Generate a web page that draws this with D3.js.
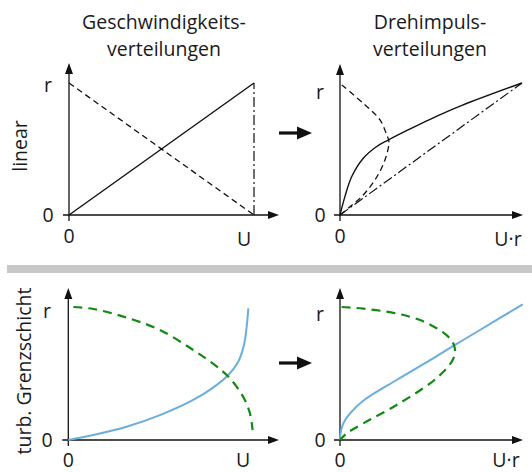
<!DOCTYPE html>
<html>
<head>
<meta charset="utf-8">
<script src="https://cdn.jsdelivr.net/npm/d3@7/dist/d3.min.js"></script>
<style>
  html, body { margin: 0; padding: 0; background: #fff; }
  svg { display: block; }
  text { font-family: "Open Sans", "Noto Sans", sans-serif; fill: #1a1a1a; }
</style>
</head>
<body>
<svg id="chart" width="532" height="472"></svg>
<script>
// ---- Werte (normiert: Geschwindigkeit u/U bzw. u·r/(U·R), Radius r/R) ----
// Zeile 1: lineares Profil
const linVelSolid   = [[0, 0], [1, 1]];
const linVelDashed  = [[0, 1], [1, 0]];
const linVelDashDot = [[1, 0], [1, 1]];

const linMomSolid = [[0, 0], [0.027, 0.139], [0.064, 0.29], [0.128, 0.43], [0.2, 0.517],
  [0.265, 0.568], [0.385, 0.652], [0.495, 0.725], [0.67, 0.83], [1, 1]];
const linMomDashed = [[0.01, 0.985], [0.126, 0.848], [0.22, 0.72], [0.257, 0.606], [0.269, 0.555],
  [0.247, 0.417], [0.192, 0.265], [0.119, 0.139], [0.055, 0.063], [0, 0]];
const linMomDashDot = [[0, 0], [1, 1]];

// Zeile 2: turbulente Grenzschicht
const turbVelBlue = [[0, 0], [0.139, 0.038], [0.324, 0.1], [0.509, 0.187], [0.694, 0.301],
  [0.806, 0.396], [0.889, 0.489], [0.944, 0.589], [0.976, 0.714], [0.991, 0.852], [1, 0.99]];
const turbVelGreen = [[0.028, 1.0], [0.139, 0.985], [0.324, 0.92], [0.509, 0.827], [0.694, 0.677],
  [0.824, 0.553], [0.88, 0.489], [0.935, 0.401], [0.981, 0.301], [1.009, 0.201], [1.024, 0.075]];

const turbMomBlue = [[0, 0], [0.005, 0.065], [0.018, 0.125], [0.055, 0.2], [0.128, 0.295],
  [0.311, 0.451], [0.495, 0.6], [0.632, 0.715], [0.769, 0.827], [1.004, 1.02]];
const turbMomGreen = [[0.009, 1.0], [0.128, 0.988], [0.311, 0.951], [0.44, 0.902], [0.531, 0.84],
  [0.595, 0.777], [0.626, 0.714], [0.632, 0.652], [0.614, 0.589], [0.568, 0.513], [0.495, 0.426],
  [0.311, 0.263], [0.128, 0.125], [0.037, 0.05], [0, 0]];

// Beschriftungen
const colTitles = [["Geschwindigkeits-", "verteilungen"], ["Drehimpuls-", "verteilungen"]];
const rowLabels = ["linear", "turb. Grenzschicht"];
const yTickLabels = ["0", "r"];
const xTickLabelsVel = ["0", "U"];
const xTickLabelsMom = ["0", "U·r"];

// ---- Layout ----
const svg = d3.select("#chart");
const black = "#111";
const blue = "#6aaedb";
const green = "#128a12";
const fs = 19.5;
const smooth = d3.curveCatmullRom.alpha(0.5);

const panels = [
  { x: [69, 254],   y: [215, 83],  xTip: 279, yTip: 63,  xLabelX: 244, rLabelX: 48,  rLabelY: 92,
    xLabelDy: 31, zeroDy: 28,
    xLabels: xTickLabelsVel, series: [
      { data: linVelSolid, style: "solid" },
      { data: linVelDashed, style: "dashed" },
      { data: linVelDashDot, style: "dashdot" }] },
  { x: [340, 522],  y: [215, 83],  xTip: 523, yTip: 64,  xLabelX: 508, rLabelX: 320, rLabelY: 99,
    xLabelDy: 31, zeroDy: 28,
    xLabels: xTickLabelsMom, series: [
      { data: linMomSolid, style: "solid", curve: smooth },
      { data: linMomDashed, style: "dashed", curve: smooth },
      { data: linMomDashDot, style: "dashdot" }] },
  { x: [68.3, 248.3], y: [440, 307], xTip: 279, yTip: 288, xLabelX: 243, rLabelX: 47, rLabelY: 318,
    xLabelDy: 26.5, zeroDy: 26.5,
    xLabels: xTickLabelsVel, series: [
      { data: turbVelBlue, style: "blue", curve: smooth },
      { data: turbVelGreen, style: "green", curve: smooth }] },
  { x: [340, 522],  y: [440, 307], xTip: 523, yTip: 288, xLabelX: 506, rLabelX: 320, rLabelY: 321,
    xLabelDy: 26.5, zeroDy: 26.5,
    xLabels: xTickLabelsMom, series: [
      { data: turbMomBlue, style: "blue", curve: smooth },
      { data: turbMomGreen, style: "green", curve: smooth }] }
];

const styles = {
  solid:   { stroke: black, width: 1.4, dash: null },
  dashed:  { stroke: black, width: 1.3, dash: "6,4" },
  dashdot: { stroke: black, width: 1.2, dash: "10,3,2,3" },
  blue:    { stroke: blue,  width: 2.0, dash: null },
  green:   { stroke: green, width: 2.2, dash: "9,6" }
};

function arrowHead(g, x, y, dir, len, half) {
  // dir: "up" or "right"
  const pts = dir === "up"
    ? [[x, y], [x - half, y + len], [x + half, y + len]]
    : [[x, y], [x - len, y - half], [x - len, y + half]];
  g.append("path").attr("d", "M" + pts.map(p => p.join(",")).join("L") + "Z").attr("fill", black);
}

panels.forEach(p => {
  const xs = d3.scaleLinear().domain([0, 1]).range(p.x);
  const ys = d3.scaleLinear().domain([0, 1]).range(p.y);
  const g = svg.append("g");

  // Achsen
  g.append("line").attr("x1", xs(0) - 6).attr("x2", p.xTip - 6)
    .attr("y1", ys(0)).attr("y2", ys(0)).attr("stroke", black).attr("stroke-width", 1.3);
  g.append("line").attr("x1", xs(0)).attr("x2", xs(0))
    .attr("y1", ys(0) + 6).attr("y2", p.yTip + 6).attr("stroke", black).attr("stroke-width", 1.3);
  arrowHead(g, p.xTip, ys(0), "right", 11, 4);
  arrowHead(g, xs(0), p.yTip, "up", 11, 4);

  // Kurven
  p.series.forEach(s => {
    const st = styles[s.style];
    const line = d3.line().x(d => xs(d[0])).y(d => ys(d[1]))
      .curve(s.curve || d3.curveLinear);
    g.append("path").datum(s.data).attr("d", line)
      .attr("fill", "none").attr("stroke", st.stroke).attr("stroke-width", st.width)
      .attr("stroke-dasharray", st.dash).attr("stroke-linecap", "butt");
  });

  // Achsenbeschriftung
  g.append("text").attr("x", p.rLabelX).attr("y", p.rLabelY).attr("text-anchor", "middle")
    .attr("font-size", fs).text(yTickLabels[1]);
  g.append("text").attr("x", p.rLabelX).attr("y", ys(0) + 7).attr("text-anchor", "middle")
    .attr("font-size", fs).text(yTickLabels[0]);
  g.append("text").attr("x", xs(0)).attr("y", ys(0) + p.zeroDy).attr("text-anchor", "middle")
    .attr("font-size", fs).text(p.xLabels[0]);
  g.append("text").attr("x", p.xLabelX).attr("y", ys(0) + p.xLabelDy).attr("text-anchor", "middle")
    .attr("font-size", fs).text(p.xLabels[1]);
});

// Spaltentitel
const titleX = [164, 430];
colTitles.forEach((lines, i) => {
  lines.forEach((t, j) => {
    svg.append("text").attr("x", titleX[i]).attr("y", 28.8 + j * 26.8)
      .attr("text-anchor", "middle").attr("font-size", fs).text(t);
  });
});

// Zeilenbeschriftungen (gedreht)
const rowPos = [[27, 146], [31, 371]];
rowLabels.forEach((t, i) => {
  svg.append("text")
    .attr("transform", `translate(${rowPos[i][0]},${rowPos[i][1]}) rotate(-90)`)
    .attr("text-anchor", "middle").attr("font-size", fs).text(t);
});

// Pfeile zwischen den Spalten
[133, 363].forEach(y => {
  svg.append("line").attr("x1", 279).attr("x2", 299).attr("y1", y).attr("y2", y)
    .attr("stroke", black).attr("stroke-width", 3.2);
  svg.append("path")
    .attr("d", `M312,${y}L297,${y - 6.5}L297,${y + 6.5}Z`).attr("fill", black);
});

// Trennbalken
svg.append("rect").attr("x", 7).attr("y", 265).attr("width", 525).attr("height", 8)
  .attr("fill", "#c8c8c8");
</script>
</body>
</html>
